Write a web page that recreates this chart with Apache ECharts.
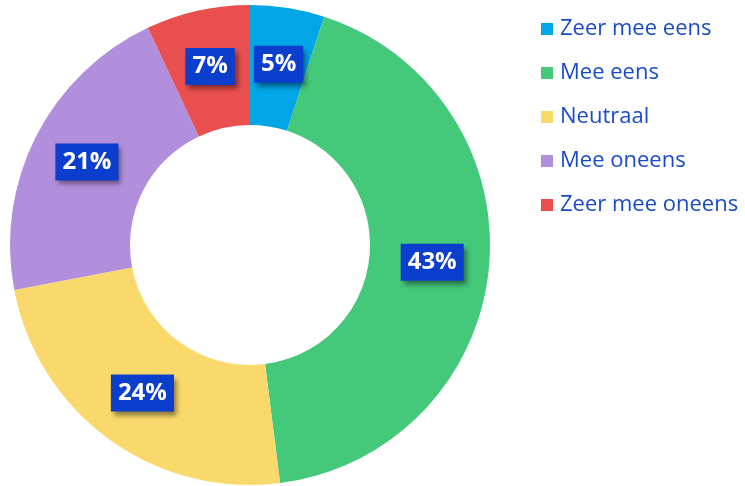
<!DOCTYPE html>
<html>
<head>
<meta charset="utf-8">
<script src="https://cdn.jsdelivr.net/npm/echarts@6/dist/echarts.min.js"></script>
<style>
  html, body { margin: 0; padding: 0; background: #fff; }
  #chart { width: 745px; height: 486px; }
</style>
</head>
<body>
<div id="chart"></div>
<script>
const categories = ['Zeer mee eens', 'Mee eens', 'Neutraal', 'Mee oneens', 'Zeer mee oneens']
const values = [5, 43, 24, 21, 7]
const colors = ['#00a6e6', '#44c87a', '#fad96c', '#b28fdc', '#ea4f4f']

const chart = echarts.init(document.getElementById('chart'))
const option = {
  animation: false,
  color: colors,
  legend: {
    orient: 'vertical',
    left: 536,
    top: 13,
    icon: 'rect',
    itemWidth: 12,
    itemHeight: 12,
    itemGap: 22,
    data: categories,
    textStyle: {
      color: '#1a4bc6',
      fontSize: 22,
      lineHeight: 22,
      fontFamily: 'Open Sans',
      padding: [0, 0, 0, 2],
    },
  },
  series: [
    {
      type: 'pie',
      center: [250, 245],
      radius: [120, 240],
      startAngle: 90,
      clockwise: true,
      label: {
        show: true,
        position: 'inside',
        formatter: '{c}%',
        color: '#fff',
        fontSize: 24,
        fontWeight: 'bold',
        fontFamily: 'Open Sans',
        backgroundColor: '#0b3ecc',
        padding: [8, 7, 5, 7],
        shadowColor: 'rgba(0, 0, 0, 0.45)',
        shadowBlur: 5,
        shadowOffsetX: 3,
        shadowOffsetY: 4,
      },
      labelLine: { show: false },
      emphasis: { disabled: true },
      data: categories.map((name, i) => ({ name, value: values[i] })),
    },
  ],
}
chart.setOption(option)
</script>
</body>
</html>
